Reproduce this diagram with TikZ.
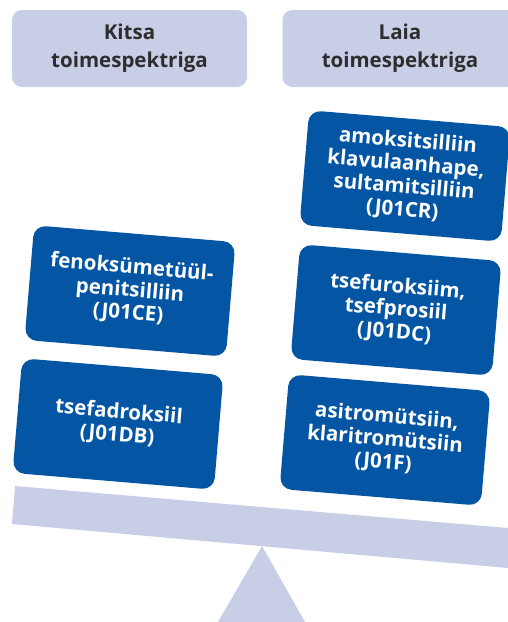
\documentclass[tikz,border=0pt]{standalone}
\usepackage{fontspec}
\setmainfont{Open Sans}
\definecolor{scaleblue}{HTML}{0455A4}
\definecolor{scalegrey}{HTML}{C8CEE6}
\definecolor{headtext}{HTML}{2E2E2E}
\begin{document}
\begin{tikzpicture}[x=1pt, y=-1pt,
        head/.style={fill=scalegrey, rounded corners=10pt, minimum width=235pt, minimum height=77pt,
            align=center, text=headtext, font=\fontsize{20.5}{28}\selectfont\bfseries},
        drug/.style={fill=scaleblue, rounded corners=12pt, minimum width=202pt, minimum height=115pt,
            align=center, text=white, rotate=-4.8, font=\fontsize{20.5}{23}\selectfont\bfseries}]
        \useasboundingbox (0, 0) rectangle (508, 622);
        \clip (0, 0) rectangle (508, 622);
        % the two pans
        \node[head] (narrow) at (129.5, 48.5) {Kitsa\\toimespektriga};
        \node[head] (broad) at (400, 48.5) {Laia\\toimespektriga};
        % pivot and beam
        \fill[scalegrey] (262, 546) -- (218, 622) -- (305, 622) -- cycle;
        \fill[scalegrey] (15, 486) -- (508, 528) -- (508, 568) -- (12, 524) -- cycle;
        % narrow side
        \node[drug] (N1) at (130, 291) {fenoksümetüül-\\penitsilliin\\(J01CE)};
        \node[drug] (N2) at (118, 424) {tsefadroksiil\\(J01DB)};
        % broad side
        \node[drug] (B1) at (405, 176) {amoksitsilliin\\klavulaanhape,\\sultamitsilliin\\(J01CR)};
        \node[drug] (B2) at (396, 310) {tsefuroksiim,\\tsefprosiil\\(J01DC)};
        \node[drug] (B3) at (385, 440) {asitromütsiin,\\klaritromütsiin\\(J01F)};
    \end{tikzpicture}
\end{document}
